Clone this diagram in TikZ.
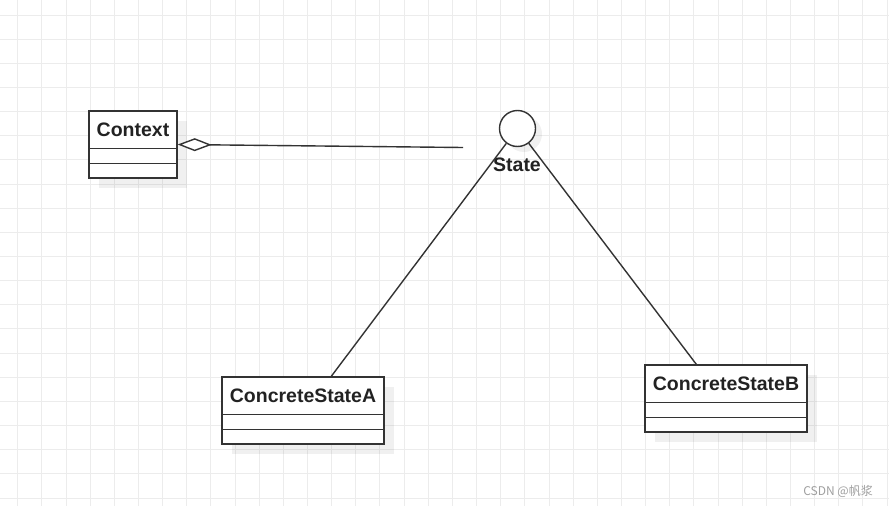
\documentclass[tikz,border=0pt]{standalone}
\usepackage{fontspec}
\setmainfont{Liberation Sans}
\newfontfamily\cjkfont{Noto Sans CJK SC}
\usetikzlibrary{arrows.meta,calc}
\definecolor{gridc}{RGB}{236,236,236}
\definecolor{linec}{RGB}{51,51,51}
\definecolor{textc}{RGB}{34,34,34}
\begin{document}
\begin{tikzpicture}[x=1pt,y=-1pt,
  umlbox/.style={draw=linec, line width=1.4pt, fill=white, inner sep=0pt, minimum height=67pt},
  shadowbox/.style={fill=black, fill opacity=0.06, draw=none, inner sep=0pt, minimum height=67pt},
  title/.style={font=\fontsize{19.5}{22}\selectfont\bfseries, text=textc, inner sep=0pt},
  conn/.style={draw=linec, line width=1.4pt},
  gridline/.style={draw=gridc, line width=1pt},
]
\fill[white] (0,0) rectangle (889,506);
\useasboundingbox (0,0) rectangle (889,506);
\foreach \i in {0,...,36} \draw[gridline] ({17.7+24.15*\i},0) -- ++(0,506);
\foreach \j in {0,...,20} \draw[gridline] (0,{15+24.15*\j}) -- ++(889,0);

% shadows
\node[shadowbox, minimum width=88pt] (ctxsh) at (143,154.5) {};
\node[shadowbox, minimum width=162pt] (csash) at (313,420.5) {};
\node[shadowbox, minimum width=162pt] (csbsh) at (736,408.5) {};
\node[circle, fill=black, fill opacity=0.06, minimum size=36pt, inner sep=0pt] (statesh) at (524,134) {};

% Context
\node[umlbox, minimum width=88pt] (ctx) at (133,144.5) {};
\draw[conn] ($(ctx.north west)+(0,38)$) -- ($(ctx.north east)+(0,38)$);
\draw[conn] ($(ctx.north west)+(0,53)$) -- ($(ctx.north east)+(0,53)$);
\node[title] (ctxt) at ($(ctx.north)+(0,19)$) {Context};

% ConcreteStateA
\node[umlbox, minimum width=162pt] (csa) at (303,410.5) {};
\draw[conn] ($(csa.north west)+(0,38)$) -- ($(csa.north east)+(0,38)$);
\draw[conn] ($(csa.north west)+(0,53)$) -- ($(csa.north east)+(0,53)$);
\node[title] (csat) at ($(csa.north)+(0,19)$) {ConcreteStateA};

% ConcreteStateB
\node[umlbox, minimum width=162pt] (csb) at (726,398.5) {};
\draw[conn] ($(csb.north west)+(0,38)$) -- ($(csb.north east)+(0,38)$);
\draw[conn] ($(csb.north west)+(0,53)$) -- ($(csb.north east)+(0,53)$);
\node[title] (csbt) at ($(csb.north)+(0,19)$) {ConcreteStateB};

% State interface
\node[circle, draw=linec, line width=1.4pt, fill=white, minimum size=36pt, inner sep=0pt] (state) at (517.5,128.5) {};
\node[title] (statet) at (517,165) {State};

% connectors
\coordinate (assocend) at (463,147.5);
\draw[conn, {Diamond[fill=white, length=34pt 0, width=13pt 0, line width=1.4pt]}-] (ctx.east) -- (assocend);
\draw[conn] (state) -- ($(csa.north west)+(110,0)$);
\draw[conn] (state) -- ($(csb.north west)+(52,0)$);

% watermark
\node[text=gray!75, font=\cjkfont\fontsize{12}{14}\selectfont, anchor=east, inner sep=0pt] (wm) at (873,491) {CSDN @帆浆};
\end{tikzpicture}
\end{document}
